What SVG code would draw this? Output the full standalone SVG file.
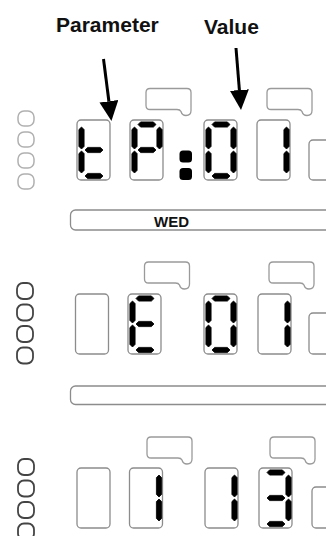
<svg xmlns="http://www.w3.org/2000/svg" xmlns:xlink="http://www.w3.org/1999/xlink" width="326" height="536" viewBox="0 0 326 536">
<style>
.lbl{font-family:"Liberation Sans",Arial,sans-serif;font-weight:bold;fill:#111}
.box{fill:none;stroke:#8c8c8c;stroke-width:1.3}
.tab{fill:none;stroke:#9a9a9a;stroke-width:1.3}
.bar{fill:none;stroke:#8c8c8c;stroke-width:1.3}
.cl{fill:none;stroke:#b0b0b0;stroke-width:1.5}
.cd{fill:none;stroke:#444;stroke-width:1.8}
.seg{fill:#000;stroke:#000;stroke-width:0.8;stroke-linejoin:round}
.arr{stroke:#000;stroke-width:3;fill:none}
</style>
<defs>
<marker id="ah" markerUnits="userSpaceOnUse" markerWidth="22" markerHeight="20" refX="0" refY="9.5" orient="auto">
<path d="M0,0 L20,9.5 L0,19 Z" fill="#000"/>
</marker>
<polygon id="sa" class="seg" points="8,4.5 10.6,1.9 23.4,1.9 26,4.5 23.4,7.1 10.6,7.1"/>
<polygon id="sg" class="seg" points="8,30 10.6,27.4 23.4,27.4 26,30 23.4,32.6 10.6,32.6"/>
<polygon id="sd" class="seg" points="8,56 10.6,53.4 23.4,53.4 26,56 23.4,58.6 10.6,58.6"/>
<polygon id="sf" class="seg" points="4.5,7 7.1,9.6 7.1,26.4 4.5,29 1.9,26.4 1.9,9.6"/>
<polygon id="se" class="seg" points="4.5,31 7.1,33.6 7.1,50.4 4.5,53 1.9,50.4 1.9,33.6"/>
<polygon id="sb" class="seg" points="29.5,7 32.1,9.6 32.1,26.4 29.5,29 26.9,26.4 26.9,9.6"/>
<polygon id="sc" class="seg" points="29.5,31 32.1,33.6 32.1,50.4 29.5,53 26.9,50.4 26.9,33.6"/>
<rect id="bx" class="box" x="0" y="0" width="33" height="60" rx="4"/>
<path id="tb" class="tab" d="M4,0 H41 Q45,0 45,4 V22 Q45,27 40,27 Q36,27 35,23 Q34,21 31,21 H4 Q0,21 0,17 V4 Q0,0 4,0 Z"/>
<g id="d0"><use xlink:href="#sa"/><use xlink:href="#sb"/><use xlink:href="#sc"/><use xlink:href="#sd"/><use xlink:href="#se"/><use xlink:href="#sf"/></g>
<g id="d1"><use xlink:href="#sb"/><use xlink:href="#sc"/></g>
<g id="d3"><use xlink:href="#sa"/><use xlink:href="#sb"/><use xlink:href="#sg"/><use xlink:href="#sc"/><use xlink:href="#sd"/></g>
<g id="dE"><use xlink:href="#sa"/><use xlink:href="#sf"/><use xlink:href="#sg"/><use xlink:href="#se"/><use xlink:href="#sd"/></g>
<g id="dt"><use xlink:href="#sf"/><use xlink:href="#se"/><use xlink:href="#sg"/><use xlink:href="#sd"/></g>
<g id="dP"><use xlink:href="#sa"/><use xlink:href="#sb"/><use xlink:href="#sf"/><use xlink:href="#sg"/><use xlink:href="#se"/></g>
</defs>
<rect width="326" height="536" fill="#fff"/>

<g id="label-parameter"><text class="lbl" x="56" y="32" font-size="21">Parameter</text></g>
<g id="label-value"><text class="lbl" x="204" y="34" font-size="21">Value</text></g>

<g id="connectors">
<line class="arr" x1="103.5" y1="59" x2="108.9" y2="101.2" marker-end="url(#ah)"/>
<line class="arr" x1="236" y1="48" x2="239.4" y2="90.1" marker-end="url(#ah)"/>
</g>

<g id="row1">
<g id="row1-leds">
<rect class="cl" x="18" y="111" width="16" height="15" rx="6"/>
<rect class="cl" x="18" y="132" width="16" height="15" rx="6"/>
<rect class="cl" x="18" y="153" width="16" height="15" rx="6"/>
<rect class="cl" x="18" y="174" width="16" height="15" rx="6"/>
</g>
<use xlink:href="#tb" x="146" y="88.5"/>
<use xlink:href="#tb" x="267" y="88.5"/>
<g id="r1d1" transform="translate(77,120)"><use xlink:href="#bx"/><use xlink:href="#dt"/></g>
<g id="r1d2" transform="translate(130,120)"><use xlink:href="#bx"/><use xlink:href="#dP"/></g>
<g id="r1colon"><rect x="179.5" y="150.5" width="12.5" height="12" rx="3.5" fill="#000"/><rect x="179.5" y="168" width="12.5" height="12" rx="3.5" fill="#000"/></g>
<g id="r1d3" transform="translate(204,120)"><use xlink:href="#bx"/><use xlink:href="#d0"/></g>
<g id="r1d4" transform="translate(257,120)"><use xlink:href="#bx"/><use xlink:href="#d1"/></g>
<rect class="box" x="309" y="140" width="30" height="40" rx="4"/>
</g>

<g id="bar-wed">
<rect class="bar" x="70.5" y="210" width="270" height="20" rx="5"/>
<text class="lbl" x="154" y="227" font-size="15">WED</text>
</g>

<g id="row2">
<g id="row2-leds">
<rect class="cd" x="17" y="283" width="16" height="16" rx="6"/>
<rect class="cd" x="17" y="304.5" width="16" height="16" rx="6"/>
<rect class="cd" x="17" y="326" width="16" height="16" rx="6"/>
<rect class="cd" x="17" y="347.5" width="16" height="16" rx="6"/>
</g>
<use xlink:href="#tb" x="144.5" y="262"/>
<use xlink:href="#tb" x="269" y="262"/>
<g id="r2d1" transform="translate(75.5,294)"><use xlink:href="#bx"/></g>
<g id="r2d2" transform="translate(128,294)"><use xlink:href="#bx"/><use xlink:href="#dE"/></g>
<g id="r2d3" transform="translate(204,294)"><use xlink:href="#bx"/><use xlink:href="#d0"/></g>
<g id="r2d4" transform="translate(258,294)"><use xlink:href="#bx"/><use xlink:href="#d1"/></g>
<rect class="box" x="309" y="313" width="30" height="41" rx="4"/>
</g>

<g id="bar-2">
<rect class="bar" x="70.5" y="386" width="270" height="18.5" rx="5"/>
</g>

<g id="row3">
<g id="row3-leds">
<rect class="cd" x="18" y="459" width="16" height="16" rx="6"/>
<rect class="cd" x="18" y="480.5" width="16" height="16" rx="6"/>
<rect class="cd" x="18" y="502" width="16" height="16" rx="6"/>
<rect class="cd" x="18" y="523.5" width="16" height="16" rx="6"/>
</g>
<use xlink:href="#tb" x="147" y="437"/>
<use xlink:href="#tb" x="270" y="437"/>
<g id="r3d1" transform="translate(77,468)"><use xlink:href="#bx"/></g>
<g id="r3d2" transform="translate(129.5,468)"><use xlink:href="#bx"/><use xlink:href="#d1"/></g>
<g id="r3d3" transform="translate(205,468)"><use xlink:href="#bx"/><use xlink:href="#d1"/></g>
<g id="r3d4" transform="translate(259,468)"><use xlink:href="#bx"/><use xlink:href="#d3"/></g>
<rect class="box" x="312" y="487" width="30" height="41" rx="4"/>
</g>
</svg>
